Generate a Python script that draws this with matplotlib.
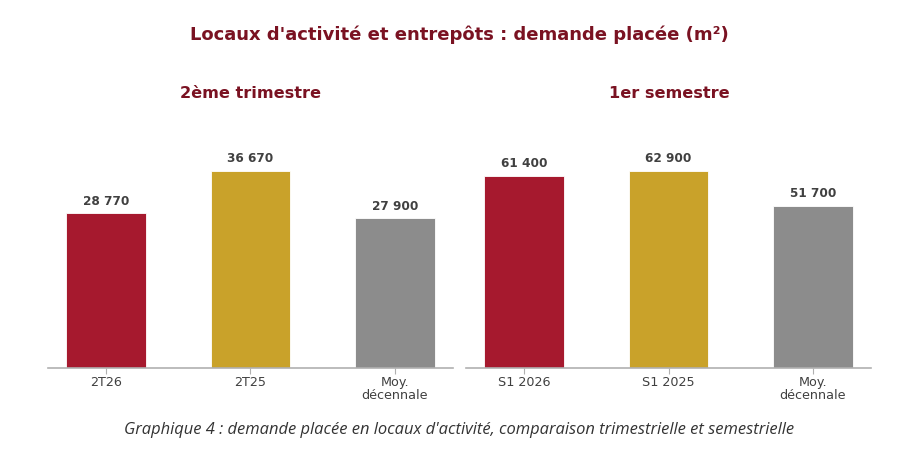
import matplotlib.pyplot as plt

# donnees
trim_labels = ["2T26", "2T25", "Moy.\ndécennale"]
trim_values = [28770, 36670, 27900]
sem_labels = ["S1 2026", "S1 2025", "Moy.\ndécennale"]
sem_values = [61400, 62900, 51700]

couleurs = ["#A6192E", "#C9A22A", "#8C8C8C"]
titre_col = "#7A1222"
texte_col = "#404040"


def fmt(v):
    return f"{v:,}".replace(",", " ")


fig = plt.figure(figsize=(9.19, 4.57), dpi=100)
ax1 = fig.add_axes([0.0522, 0.1947, 0.4407, 0.521])
ax2 = fig.add_axes([0.5071, 0.1947, 0.4407, 0.521])

for ax, labels, values, sous_titre in [
    (ax1, trim_labels, trim_values, "2ème trimestre"),
    (ax2, sem_labels, sem_values, "1er semestre"),
]:
    x = range(len(values))
    bars = ax.bar(x, values, width=0.55, color=couleurs, edgecolor="white", linewidth=0.6)
    ax.set_ylim(0, max(values) * 1.208)
    for b, v in zip(bars, values):
        ax.annotate(fmt(v), (b.get_x() + b.get_width() / 2, v), xytext=(0, 4),
                    textcoords="offset points", ha="center", va="bottom",
                    fontsize=8.7, fontweight="bold", color=texte_col)
    ax.set_xticks(list(x))
    ax.set_xticklabels(labels, fontsize=9.2, color=texte_col, linespacing=1.0)
    ax.tick_params(axis="x", length=4, color="#B0B0B0", pad=2)
    ax.set_yticks([])
    for s in ["top", "right", "left"]:
        ax.spines[s].set_visible(False)
    ax.spines["bottom"].set_color("#B0B0B0")
    ax.spines["bottom"].set_linewidth(1.2)
    fig.text(ax.get_position().x0 + ax.get_position().width * (107 + 144 - 48) / 405,
             1 - 93 / 457, sous_titre, ha="center", va="center",
             fontsize=11.6, fontweight="bold", color=titre_col)

fig.text(0.5, 1 - 35 / 457, "Locaux d'activité et entrepôts : demande placée (m²)",
         ha="center", va="center", fontsize=13, fontweight="bold", color=titre_col)
fig.text(0.5, 1 - 430 / 457,
         "Graphique 4 : demande placée en locaux d'activité, comparaison trimestrielle et semestrielle",
         ha="center", va="center", fontsize=11.9, style="italic", color="#333333",
         family="Open Sans")

fig.savefig("out.png", dpi=100)
